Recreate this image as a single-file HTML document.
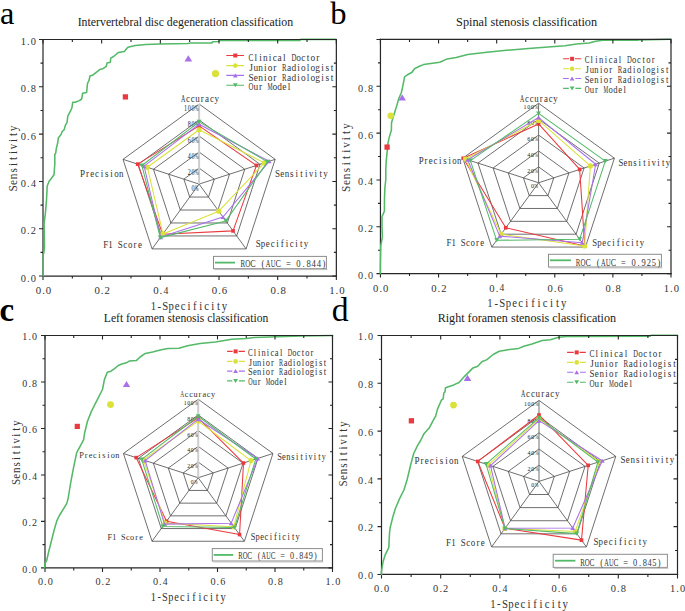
<!DOCTYPE html><html><head><meta charset="utf-8"><style>html,body{margin:0;padding:0;background:#fff;}svg{display:block;}</style></head><body><svg width="685" height="611" viewBox="0 0 685 611"><rect width="685" height="611" fill="#fff"/>
<polygon points="199.1,168.08 214.32,179.15 208.5,197.06 189.7,197.06 183.88,179.15" fill="none" stroke="#4a4a4a" stroke-width="0.8"/>
<polygon points="199.1,152.06 229.53,174.2 217.91,210.02 180.29,210.02 168.67,174.2" fill="none" stroke="#4a4a4a" stroke-width="0.8"/>
<polygon points="199.1,136.04 244.75,169.25 227.31,222.98 170.89,222.98 153.45,169.25" fill="none" stroke="#4a4a4a" stroke-width="0.8"/>
<polygon points="199.1,120.02 259.97,164.3 236.72,235.94 161.48,235.94 138.23,164.3" fill="none" stroke="#4a4a4a" stroke-width="0.8"/>
<polygon points="199.1,104 275.18,159.35 246.12,248.9 152.08,248.9 123.02,159.35" fill="none" stroke="#4a4a4a" stroke-width="0.8"/>
<line x1="199.1" y1="184.1" x2="275.18" y2="159.35" stroke="#4a4a4a" stroke-width="0.8"/>
<line x1="199.1" y1="184.1" x2="246.12" y2="248.9" stroke="#4a4a4a" stroke-width="0.8"/>
<line x1="199.1" y1="184.1" x2="152.08" y2="248.9" stroke="#4a4a4a" stroke-width="0.8"/>
<line x1="199.1" y1="184.1" x2="123.02" y2="159.35" stroke="#4a4a4a" stroke-width="0.8"/>
<line x1="199.1" y1="184.1" x2="199.1" y2="104" stroke="#cdcdcd" stroke-width="2"/>
<g class="pct">
<text transform="scale(0.85 1)" x="227.03" y="191.2" font-family="Liberation Serif" font-size="7.2" text-anchor="middle" fill="#222">0</text>
<text transform="scale(0.6 1)" x="327.88" y="191.2" font-family="Liberation Serif" font-size="7.2" text-anchor="middle" fill="#222">%</text>
<text transform="scale(0.85 1)" x="222.62 227.03" y="175.18" font-family="Liberation Serif" font-size="7.2" text-anchor="middle" fill="#222">20</text>
<text transform="scale(0.6 1)" x="327.88" y="175.18" font-family="Liberation Serif" font-size="7.2" text-anchor="middle" fill="#222">%</text>
<text transform="scale(0.85 1)" x="222.62 227.03" y="159.16" font-family="Liberation Serif" font-size="7.2" text-anchor="middle" fill="#222">40</text>
<text transform="scale(0.6 1)" x="327.88" y="159.16" font-family="Liberation Serif" font-size="7.2" text-anchor="middle" fill="#222">%</text>
<text transform="scale(0.85 1)" x="222.62 227.03" y="143.14" font-family="Liberation Serif" font-size="7.2" text-anchor="middle" fill="#222">60</text>
<text transform="scale(0.6 1)" x="327.88" y="143.14" font-family="Liberation Serif" font-size="7.2" text-anchor="middle" fill="#222">%</text>
<text transform="scale(0.85 1)" x="222.62 227.03" y="127.12" font-family="Liberation Serif" font-size="7.2" text-anchor="middle" fill="#222">80</text>
<text transform="scale(0.6 1)" x="327.88" y="127.12" font-family="Liberation Serif" font-size="7.2" text-anchor="middle" fill="#222">%</text>
<text transform="scale(0.85 1)" x="218.21 222.62 227.03" y="111.1" font-family="Liberation Serif" font-size="7.2" text-anchor="middle" fill="#222">100</text>
<text transform="scale(0.6 1)" x="327.88" y="111.1" font-family="Liberation Serif" font-size="7.2" text-anchor="middle" fill="#222">%</text>
</g>
<polygon points="199.1,125.87 256.47,165.44 233.05,230.89 162.7,234.26 137.7,164.12" fill="none" stroke="#ea3a40" stroke-width="1.05" stroke-linejoin="round"/>
<rect x="197.26" y="124.03" width="3.68" height="3.68" fill="#ea3a40"/>
<rect x="254.63" y="163.6" width="3.68" height="3.68" fill="#ea3a40"/>
<rect x="231.21" y="229.05" width="3.68" height="3.68" fill="#ea3a40"/>
<rect x="160.87" y="232.42" width="3.68" height="3.68" fill="#ea3a40"/>
<rect x="135.86" y="162.29" width="3.68" height="3.68" fill="#ea3a40"/>
<polygon points="199.1,129.79 264.38,162.86 218.76,211.19 162.94,233.93 147.36,167.27" fill="none" stroke="#dae23a" stroke-width="1.05" stroke-linejoin="round"/>
<circle cx="199.1" cy="129.79" r="2.62" fill="#dae23a"/>
<circle cx="264.38" cy="162.86" r="2.62" fill="#dae23a"/>
<circle cx="218.76" cy="211.19" r="2.62" fill="#dae23a"/>
<circle cx="162.94" cy="233.93" r="2.62" fill="#dae23a"/>
<circle cx="147.36" cy="167.27" r="2.62" fill="#dae23a"/>
<polygon points="199.1,124.19 269.17,161.3 222.99,217.02 160.64,237.11 144.09,166.2" fill="none" stroke="#a970ea" stroke-width="1.05" stroke-linejoin="round"/>
<polygon points="199.1,122.15 196.65,126.22 201.55,126.22" fill="#a970ea"/>
<polygon points="269.17,159.27 266.72,163.34 271.62,163.34" fill="#a970ea"/>
<polygon points="222.99,214.99 220.54,219.05 225.44,219.05" fill="#a970ea"/>
<polygon points="160.64,235.07 158.19,239.14 163.09,239.14" fill="#a970ea"/>
<polygon points="144.09,164.17 141.64,168.24 146.54,168.24" fill="#a970ea"/>
<polygon points="199.1,121.86 267.5,161.85 225.81,220.91 160.26,237.63 141.88,165.49" fill="none" stroke="#54b968" stroke-width="1.05" stroke-linejoin="round"/>
<polygon points="199.1,123.9 196.65,119.83 201.55,119.83" fill="#54b968"/>
<polygon points="267.5,163.88 265.05,159.81 269.95,159.81" fill="#54b968"/>
<polygon points="225.81,222.94 223.36,218.87 228.26,218.87" fill="#54b968"/>
<polygon points="160.26,239.66 157.81,235.59 162.71,235.59" fill="#54b968"/>
<polygon points="141.88,167.52 139.43,163.45 144.33,163.45" fill="#54b968"/>
<text transform="scale(0.6 1)" x="305.2" y="101.6" font-family="Liberation Serif" font-size="10" text-anchor="middle" fill="#333333">A</text>
<text transform="scale(0.9 1)" x="208.79 214.12 219.45 224.77 230.1 235.43 240.76" y="101.6" font-family="Liberation Serif" font-size="10" text-anchor="middle" fill="#333333">ccuracy</text>
<text transform="scale(0.9 1)" x="308.25 313.59 318.93 324.27 329.6 334.94 340.28" y="176.9" font-family="Liberation Serif" font-size="10" text-anchor="middle" fill="#333333">Sensiti</text>
<text transform="scale(0.85 1)" x="365.95" y="176.9" font-family="Liberation Serif" font-size="10" text-anchor="middle" fill="#333333">v</text>
<text transform="scale(0.9 1)" x="350.96 356.3 361.64" y="176.9" font-family="Liberation Serif" font-size="10" text-anchor="middle" fill="#333333">ity</text>
<text transform="scale(0.9 1)" x="287.01 292.32 297.63 302.94 308.25 313.56 318.86 324.17 329.48 334.79 340.1" y="247.3" font-family="Liberation Serif" font-size="10" text-anchor="middle" fill="#333333">Specificity</text>
<text transform="scale(0.9 1)" x="117.4 122.86 133.77 139.23 144.68 150.14 155.6" y="247.8" font-family="Liberation Serif" font-size="10" text-anchor="middle" fill="#333333">F1Score</text>
<text transform="scale(0.9 1)" x="91.81 97.18 102.55 107.91 113.28 118.64 124.01 129.38 134.74" y="176.6" font-family="Liberation Serif" font-size="10" text-anchor="middle" fill="#333333">Precision</text>
<path d="M43 39.5V276.05H336.35" stroke="#262626" stroke-width="1.2" fill="none" stroke-linecap="square"/>
<path d="M43 276.05v4M43 276.05h-4M72.34 276.05v2.5M43 252.4h-2.5M101.67 276.05v4M43 228.74h-4M131 276.05v2.5M43 205.09h-2.5M160.34 276.05v4M43 181.43h-4M189.68 276.05v2.5M43 157.78h-2.5M219.01 276.05v4M43 134.12h-4M248.34 276.05v2.5M43 110.47h-2.5M277.68 276.05v4M43 86.81h-4M307.02 276.05v2.5M43 63.16h-2.5M336.35 276.05v4M43 39.5h-4" stroke="#262626" stroke-width="1.1" fill="none"/>
<polyline points="43.2,276 43.2,255 43.9,252.4 44.5,247 44.1,223.6 45.4,213.1 46.5,200 47.2,186 49.1,181.3 51.1,178.7 54,174.7 54.8,164.3 54.8,154.5 55.7,153.1 56.3,148.6 57.6,143.3 58.3,138.1 60.9,134.8 62.2,131.5 64.2,129.6 65.4,125.2 67,122.7 67.8,116.2 70.3,111.3 71.9,108 72.7,102.3 75.2,102.3 79.3,100.6 81.7,99 82.6,93.3 86.6,92.5 87.5,83.5 89.1,80.2 89.9,76.1 92.4,75.3 95.6,72.8 99.7,69.6 103,68.7 106.3,66.3 107.1,63 110.4,62.2 110.7,58.1 113.6,56.5 118.6,52.4 124.3,51.5 127.6,47.5 130.8,46.6 135.3,45.6 145.8,44.4 159.8,43.9 187.8,43.5 190.4,42.9 212,42.9 212.5,41.8 218.4,41.6 219.5,40.6 300,40.4 300.6,39.35 336,39.35" fill="none" stroke="#54b968" stroke-width="1.55" stroke-linejoin="round" stroke-linecap="round"/>
<rect x="122.75" y="94.25" width="5.3" height="5.3" fill="#ea3a40"/>
<circle cx="215.5" cy="73.6" r="3.6" fill="#dae23a"/>
<polygon points="188.3,55.2 184.45,61.6 192.15,61.6" fill="#a970ea"/>
<path d="M43 39.5H336.35V276.05" stroke="#262626" stroke-width="1.2" fill="none" stroke-linecap="square"/>
<path d="M43 39.5v4M336.35 276.05h-4M72.34 39.5v2.5M336.35 252.4h-2.5M101.67 39.5v4M336.35 228.74h-4M131 39.5v2.5M336.35 205.09h-2.5M160.34 39.5v4M336.35 181.43h-4M189.68 39.5v2.5M336.35 157.78h-2.5M219.01 39.5v4M336.35 134.12h-4M248.34 39.5v2.5M336.35 110.47h-2.5M277.68 39.5v4M336.35 86.81h-4M307.02 39.5v2.5M336.35 63.16h-2.5M336.35 39.5v4M336.35 39.5h-4" stroke="#262626" stroke-width="1.1" fill="none"/>
<text transform="scale(1 1)" x="23.4 28.4 33.4" y="281.55" font-family="Liberation Serif" font-size="10.4" text-anchor="middle" fill="#333333">0.0</text>
<text transform="scale(1 1)" x="23.4 28.4 33.4" y="234.24" font-family="Liberation Serif" font-size="10.4" text-anchor="middle" fill="#333333">0.2</text>
<text transform="scale(1 1)" x="23.4 28.4" y="186.93" font-family="Liberation Serif" font-size="10.4" text-anchor="middle" fill="#333333">0.</text>
<text transform="scale(0.95 1)" x="35.16" y="186.93" font-family="Liberation Serif" font-size="10.4" text-anchor="middle" fill="#333333">4</text>
<text transform="scale(1 1)" x="23.4 28.4 33.4" y="139.62" font-family="Liberation Serif" font-size="10.4" text-anchor="middle" fill="#333333">0.6</text>
<text transform="scale(1 1)" x="23.4 28.4 33.4" y="92.31" font-family="Liberation Serif" font-size="10.4" text-anchor="middle" fill="#333333">0.8</text>
<text transform="scale(1 1)" x="23.4 28.4 33.4" y="45" font-family="Liberation Serif" font-size="10.4" text-anchor="middle" fill="#333333">1.0</text>
<text transform="scale(1 1)" x="38.5 43.5 48.5" y="294.05" font-family="Liberation Serif" font-size="10.8" text-anchor="middle" fill="#333333">0.0</text>
<text transform="scale(1 1)" x="97.17 102.17 107.17" y="294.05" font-family="Liberation Serif" font-size="10.8" text-anchor="middle" fill="#333333">0.2</text>
<text transform="scale(1 1)" x="155.84 160.84" y="294.05" font-family="Liberation Serif" font-size="10.8" text-anchor="middle" fill="#333333">0.</text>
<text transform="scale(0.9 1)" x="184.27" y="294.05" font-family="Liberation Serif" font-size="10.8" text-anchor="middle" fill="#333333">4</text>
<text transform="scale(1 1)" x="214.51 219.51 224.51" y="294.05" font-family="Liberation Serif" font-size="10.8" text-anchor="middle" fill="#333333">0.6</text>
<text transform="scale(1 1)" x="273.18 278.18 283.18" y="294.05" font-family="Liberation Serif" font-size="10.8" text-anchor="middle" fill="#333333">0.8</text>
<text transform="scale(1 1)" x="331.85 336.85 341.85" y="294.05" font-family="Liberation Serif" font-size="10.8" text-anchor="middle" fill="#333333">1.0</text>
<text transform="scale(0.9 1)" x="170.41 177 183.59 190.18 196.77 203.36 209.94 216.53 223.12 229.71 236.3 242.89 249.48" y="309.9" font-family="Liberation Serif" font-size="11.9" text-anchor="middle" fill="#333333">1-Specificity</text>
<g transform="translate(17.4 158.45) rotate(-90)">
<text transform="scale(0.9 1)" x="-33.28 -26.63 -19.97 -13.31 -6.66 0 6.66" y="0" font-family="Liberation Serif" font-size="12.5" text-anchor="middle" fill="#333333">Sensiti</text>
<text transform="scale(0.85 1)" x="14.1" y="0" font-family="Liberation Serif" font-size="12.5" text-anchor="middle" fill="#333333">v</text>
<text transform="scale(0.9 1)" x="19.97 26.63 33.28" y="0" font-family="Liberation Serif" font-size="12.5" text-anchor="middle" fill="#333333">ity</text>
</g>
<text x="77.7" y="26.1" font-family="Liberation Serif" font-size="11.8" fill="#1a1a1a" font-weight="normal" text-anchor="start" textLength="215.4" lengthAdjust="spacingAndGlyphs">Intervertebral disc degeneration classification</text>
<text x="-0.1" y="24.3" font-family="Liberation Serif" font-size="32.4" fill="#000" font-weight="normal" text-anchor="start">a</text>
<path d="M226.3 55.5H235.3M235.3 55.5H244" stroke="#ea3a40" stroke-width="1.1" fill="none"/>
<rect x="233.3" y="53.5" width="4" height="4" fill="#ea3a40"/>
<text transform="scale(0.7 1)" x="358.58" y="60.7" font-family="Liberation Serif" font-size="10.4" text-anchor="middle" fill="#333333">C</text>
<text transform="scale(0.9 1)" x="284.19 289.48 294.78 300.07 305.36 310.66 315.95" y="60.7" font-family="Liberation Serif" font-size="10.4" text-anchor="middle" fill="#333333">linical</text>
<text transform="scale(0.65 1)" x="452.13" y="60.7" font-family="Liberation Serif" font-size="10.4" text-anchor="middle" fill="#333333">D</text>
<text transform="scale(0.9 1)" x="331.83 337.12 342.42 347.71 353" y="60.7" font-family="Liberation Serif" font-size="10.4" text-anchor="middle" fill="#333333">octor</text>
<path d="M226.3 65.6H235.3M235.3 65.6H244" stroke="#dae23a" stroke-width="1.1" fill="none"/>
<circle cx="235.3" cy="65.6" r="2.3" fill="#dae23a"/>
<text transform="scale(0.9 1)" x="278.9 284.19 289.48 294.78 300.07 305.36" y="70.8" font-family="Liberation Serif" font-size="10.4" text-anchor="middle" fill="#333333">Junior</text>
<text transform="scale(0.65 1)" x="437.47" y="70.8" font-family="Liberation Serif" font-size="10.4" text-anchor="middle" fill="#333333">R</text>
<text transform="scale(0.9 1)" x="321.24 326.54 331.83 337.12 342.42 347.71 353 358.3 363.59 368.88" y="70.8" font-family="Liberation Serif" font-size="10.4" text-anchor="middle" fill="#333333">adiologist</text>
<path d="M226.3 75.4H235.3M235.3 75.4H244" stroke="#a970ea" stroke-width="1.1" fill="none"/>
<polygon points="235.3,73.41 232.9,77.39 237.7,77.39" fill="#a970ea"/>
<text transform="scale(0.9 1)" x="278.9 284.19 289.48 294.78 300.07 305.36" y="80.6" font-family="Liberation Serif" font-size="10.4" text-anchor="middle" fill="#333333">Senior</text>
<text transform="scale(0.65 1)" x="437.47" y="80.6" font-family="Liberation Serif" font-size="10.4" text-anchor="middle" fill="#333333">R</text>
<text transform="scale(0.9 1)" x="321.24 326.54 331.83 337.12 342.42 347.71 353 358.3 363.59 368.88" y="80.6" font-family="Liberation Serif" font-size="10.4" text-anchor="middle" fill="#333333">adiologist</text>
<path d="M226.3 85.3H235.3M235.3 85.3H244" stroke="#54b968" stroke-width="1.1" fill="none"/>
<polygon points="235.3,87.29 232.9,83.31 237.7,83.31" fill="#54b968"/>
<text transform="scale(0.65 1)" x="386.16" y="90.5" font-family="Liberation Serif" font-size="10.4" text-anchor="middle" fill="#333333">O</text>
<text transform="scale(0.9 1)" x="284.19 289.48" y="90.5" font-family="Liberation Serif" font-size="10.4" text-anchor="middle" fill="#333333">ur</text>
<text transform="scale(0.55 1)" x="491.02" y="90.5" font-family="Liberation Serif" font-size="10.4" text-anchor="middle" fill="#333333">M</text>
<text transform="scale(0.9 1)" x="305.36 310.66 315.95 321.24" y="90.5" font-family="Liberation Serif" font-size="10.4" text-anchor="middle" fill="#333333">odel</text>
<rect x="213.5" y="256.4" width="112.9" height="12.3" fill="none" stroke="#8c8c8c" stroke-width="1"/>
<line x1="214.5" y1="269.6" x2="327.3" y2="269.6" stroke="#bdbdbd" stroke-width="1"/>
<line x1="215" y1="262.6" x2="235" y2="262.6" stroke="#54b968" stroke-width="1.8"/>
<text transform="scale(0.65 1)" x="373.43 381.23" y="267.4" font-family="Liberation Serif" font-size="10.8" text-anchor="middle" fill="#333333">RO</text>
<text transform="scale(0.75 1)" x="337.16" y="267.4" font-family="Liberation Serif" font-size="10.8" text-anchor="middle" fill="#333333">C</text>
<text transform="scale(0.8 1)" x="328.77" y="267.4" font-family="Liberation Serif" font-size="10.8" text-anchor="middle" fill="#333333">(</text>
<text transform="scale(0.6 1)" x="446.81 455.26" y="267.4" font-family="Liberation Serif" font-size="10.8" text-anchor="middle" fill="#333333">AU</text>
<text transform="scale(0.75 1)" x="370.97" y="267.4" font-family="Liberation Serif" font-size="10.8" text-anchor="middle" fill="#333333">C</text>
<text transform="scale(0.8 1)" x="360.46 373.14 379.48 385.82 392.16 398.5 404.84" y="267.4" font-family="Liberation Serif" font-size="10.8" text-anchor="middle" fill="#333333">=0.844)</text>
<polygon points="538.6,166.85 553.76,177.84 547.97,195.61 529.23,195.61 523.44,177.84" fill="none" stroke="#4a4a4a" stroke-width="0.8"/>
<polygon points="538.6,150.95 568.92,172.92 557.34,208.48 519.86,208.48 508.28,172.92" fill="none" stroke="#4a4a4a" stroke-width="0.8"/>
<polygon points="538.6,135.05 584.08,168.01 566.71,221.34 510.49,221.34 493.12,168.01" fill="none" stroke="#4a4a4a" stroke-width="0.8"/>
<polygon points="538.6,119.15 599.24,163.1 576.08,234.2 501.12,234.2 477.96,163.1" fill="none" stroke="#4a4a4a" stroke-width="0.8"/>
<polygon points="538.6,103.25 614.4,158.18 585.45,247.07 491.75,247.07 462.8,158.18" fill="none" stroke="#4a4a4a" stroke-width="0.8"/>
<line x1="538.6" y1="182.75" x2="614.4" y2="158.18" stroke="#4a4a4a" stroke-width="0.8"/>
<line x1="538.6" y1="182.75" x2="585.45" y2="247.07" stroke="#4a4a4a" stroke-width="0.8"/>
<line x1="538.6" y1="182.75" x2="491.75" y2="247.07" stroke="#4a4a4a" stroke-width="0.8"/>
<line x1="538.6" y1="182.75" x2="462.8" y2="158.18" stroke="#4a4a4a" stroke-width="0.8"/>
<line x1="538.6" y1="182.75" x2="538.6" y2="103.25" stroke="#707070" stroke-width="1"/>
<g class="pct">
<text transform="scale(0.85 1)" x="626.44" y="188.45" font-family="Liberation Serif" font-size="7" text-anchor="middle" fill="#222">0</text>
<text transform="scale(0.65 1)" x="824.96" y="188.45" font-family="Liberation Serif" font-size="7" text-anchor="middle" fill="#222">%</text>
<text transform="scale(0.85 1)" x="622.03 626.44" y="172.55" font-family="Liberation Serif" font-size="7" text-anchor="middle" fill="#222">20</text>
<text transform="scale(0.65 1)" x="824.96" y="172.55" font-family="Liberation Serif" font-size="7" text-anchor="middle" fill="#222">%</text>
<text transform="scale(0.85 1)" x="622.03 626.44" y="156.65" font-family="Liberation Serif" font-size="7" text-anchor="middle" fill="#222">40</text>
<text transform="scale(0.65 1)" x="824.96" y="156.65" font-family="Liberation Serif" font-size="7" text-anchor="middle" fill="#222">%</text>
<text transform="scale(0.85 1)" x="622.03 626.44" y="140.75" font-family="Liberation Serif" font-size="7" text-anchor="middle" fill="#222">60</text>
<text transform="scale(0.65 1)" x="824.96" y="140.75" font-family="Liberation Serif" font-size="7" text-anchor="middle" fill="#222">%</text>
<text transform="scale(0.85 1)" x="622.03 626.44" y="124.85" font-family="Liberation Serif" font-size="7" text-anchor="middle" fill="#222">80</text>
<text transform="scale(0.65 1)" x="824.96" y="124.85" font-family="Liberation Serif" font-size="7" text-anchor="middle" fill="#222">%</text>
<text transform="scale(0.85 1)" x="617.62 622.03 626.44" y="108.95" font-family="Liberation Serif" font-size="7" text-anchor="middle" fill="#222">100</text>
<text transform="scale(0.65 1)" x="824.96" y="108.95" font-family="Liberation Serif" font-size="7" text-anchor="middle" fill="#222">%</text>
</g>
<polygon points="538.6,123.92 579.68,169.43 584.74,246.1 505.81,227.77 463.18,158.31" fill="none" stroke="#ea3a40" stroke-width="1.05" stroke-linejoin="round"/>
<rect x="536.76" y="122.08" width="3.68" height="3.68" fill="#ea3a40"/>
<rect x="577.85" y="167.6" width="3.68" height="3.68" fill="#ea3a40"/>
<rect x="582.91" y="244.26" width="3.68" height="3.68" fill="#ea3a40"/>
<rect x="503.97" y="225.93" width="3.68" height="3.68" fill="#ea3a40"/>
<rect x="461.34" y="156.47" width="3.68" height="3.68" fill="#ea3a40"/>
<polygon points="538.6,120.42 590.37,165.97 584.6,245.91 501.12,234.2 465.45,159.04" fill="none" stroke="#dae23a" stroke-width="1.05" stroke-linejoin="round"/>
<circle cx="538.6" cy="120.42" r="2.62" fill="#dae23a"/>
<circle cx="590.37" cy="165.97" r="2.62" fill="#dae23a"/>
<circle cx="584.6" cy="245.91" r="2.62" fill="#dae23a"/>
<circle cx="501.12" cy="234.2" r="2.62" fill="#dae23a"/>
<circle cx="465.45" cy="159.04" r="2.62" fill="#dae23a"/>
<polygon points="538.6,117.56 595.68,164.25 582.26,242.69 499.72,236.13 467.65,159.76" fill="none" stroke="#a970ea" stroke-width="1.05" stroke-linejoin="round"/>
<polygon points="538.6,115.53 536.15,119.59 541.05,119.59" fill="#a970ea"/>
<polygon points="595.68,162.22 593.23,166.28 598.13,166.28" fill="#a970ea"/>
<polygon points="582.26,240.66 579.81,244.73 584.71,244.73" fill="#a970ea"/>
<polygon points="499.72,234.1 497.27,238.17 502.17,238.17" fill="#a970ea"/>
<polygon points="467.65,157.72 465.2,161.79 470.1,161.79" fill="#a970ea"/>
<polygon points="538.6,113.43 605.3,161.13 579.68,239.16 496.67,240.31 470.38,160.64" fill="none" stroke="#54b968" stroke-width="1.05" stroke-linejoin="round"/>
<polygon points="538.6,115.46 536.15,111.39 541.05,111.39" fill="#54b968"/>
<polygon points="605.3,163.16 602.85,159.1 607.75,159.1" fill="#54b968"/>
<polygon points="579.68,241.19 577.23,237.12 582.13,237.12" fill="#54b968"/>
<polygon points="496.67,242.35 494.22,238.28 499.12,238.28" fill="#54b968"/>
<polygon points="470.38,162.67 467.93,158.61 472.83,158.61" fill="#54b968"/>
<text transform="scale(0.6 1)" x="870.33" y="102" font-family="Liberation Serif" font-size="9.8" text-anchor="middle" fill="#333333">A</text>
<text transform="scale(0.9 1)" x="585.49 590.76 596.03 601.3 606.57 611.84 617.11" y="102" font-family="Liberation Serif" font-size="9.8" text-anchor="middle" fill="#333333">ccuracy</text>
<text transform="scale(0.9 1)" x="689.87 695.09 700.32 705.55 710.77 716 721.23" y="165.8" font-family="Liberation Serif" font-size="9.8" text-anchor="middle" fill="#333333">Sensiti</text>
<text transform="scale(0.85 1)" x="769.19" y="165.8" font-family="Liberation Serif" font-size="9.8" text-anchor="middle" fill="#333333">v</text>
<text transform="scale(0.9 1)" x="731.68 736.91 742.13" y="165.8" font-family="Liberation Serif" font-size="9.8" text-anchor="middle" fill="#333333">ity</text>
<text transform="scale(0.9 1)" x="660.77 666.01 671.26 676.51 681.75 687 692.25 697.49 702.74 707.99 713.23" y="245.8" font-family="Liberation Serif" font-size="9.8" text-anchor="middle" fill="#333333">Specificity</text>
<text transform="scale(0.9 1)" x="498.79 504.09 514.68 519.98 525.28 530.58 535.88" y="246" font-family="Liberation Serif" font-size="9.8" text-anchor="middle" fill="#333333">F1Score</text>
<text transform="scale(0.9 1)" x="467.9 473.2 478.51 483.81 489.11 494.41 499.72 505.02 510.32" y="163.8" font-family="Liberation Serif" font-size="9.8" text-anchor="middle" fill="#333333">Precision</text>
<path d="M380.45 39.46V273.6H671" stroke="#262626" stroke-width="1.2" fill="none" stroke-linecap="square"/>
<path d="M380.45 273.6v4M380.45 273.6h-4M409.5 273.6v2.5M380.45 250.19h-2.5M438.56 273.6v4M380.45 226.77h-4M467.62 273.6v2.5M380.45 203.36h-2.5M496.67 273.6v4M380.45 179.94h-4M525.73 273.6v2.5M380.45 156.53h-2.5M554.78 273.6v4M380.45 133.12h-4M583.84 273.6v2.5M380.45 109.7h-2.5M612.89 273.6v4M380.45 86.29h-4M641.94 273.6v2.5M380.45 62.87h-2.5M671 273.6v4M380.45 39.46h-4" stroke="#262626" stroke-width="1.1" fill="none"/>
<polyline points="380.4,273.6 380.4,265 380.8,245.5 382.4,236.9 382,227.1 382,216.7 384.4,211.1 384.5,198.1 384.9,187.6 385.8,179.7 385.8,169.3 386.2,161.4 387.1,152.3 388,143.1 389.1,137.9 391.4,130 391.5,122.7 393.2,117 395.6,109.6 398.9,98.2 401.4,92.5 403,85.1 404.6,76.9 407.1,75 412,72.3 414.5,68.7 419.4,66.3 423.5,64.6 439.8,62.2 447.2,58.9 456.2,57.6 467.7,54.5 484.6,52.4 506.5,50.3 528.4,48.4 554.7,46.5 565,45.7 576.7,43.9 589.1,43 595.7,41.3 604.4,40.1 638,40.1 670.7,39.3" fill="none" stroke="#54b968" stroke-width="1.55" stroke-linejoin="round" stroke-linecap="round"/>
<rect x="384.45" y="144.45" width="5.3" height="5.3" fill="#ea3a40"/>
<circle cx="390.7" cy="115.7" r="3.2" fill="#dae23a"/>
<polygon points="402.2,94.33 398.5,100.47 405.9,100.47" fill="#a970ea"/>
<path d="M380.45 39.46H671V273.6" stroke="#262626" stroke-width="1.2" fill="none" stroke-linecap="square"/>
<path d="M380.45 39.46v4M671 273.6h-4M409.5 39.46v2.5M671 250.19h-2.5M438.56 39.46v4M671 226.77h-4M467.62 39.46v2.5M671 203.36h-2.5M496.67 39.46v4M671 179.94h-4M525.73 39.46v2.5M671 156.53h-2.5M554.78 39.46v4M671 133.12h-4M583.84 39.46v2.5M671 109.7h-2.5M612.89 39.46v4M671 86.29h-4M641.94 39.46v2.5M671 62.87h-2.5M671 39.46v4M671 39.46h-4" stroke="#262626" stroke-width="1.1" fill="none"/>
<text transform="scale(1 1)" x="360.5 365.5 370.5" y="279" font-family="Liberation Serif" font-size="10.2" text-anchor="middle" fill="#333333">0.0</text>
<text transform="scale(1 1)" x="360.5 365.5 370.5" y="232.17" font-family="Liberation Serif" font-size="10.2" text-anchor="middle" fill="#333333">0.2</text>
<text transform="scale(1 1)" x="360.5 365.5" y="185.34" font-family="Liberation Serif" font-size="10.2" text-anchor="middle" fill="#333333">0.</text>
<text transform="scale(0.95 1)" x="390" y="185.34" font-family="Liberation Serif" font-size="10.2" text-anchor="middle" fill="#333333">4</text>
<text transform="scale(1 1)" x="360.5 365.5 370.5" y="138.52" font-family="Liberation Serif" font-size="10.2" text-anchor="middle" fill="#333333">0.6</text>
<text transform="scale(1 1)" x="360.5 365.5 370.5" y="91.69" font-family="Liberation Serif" font-size="10.2" text-anchor="middle" fill="#333333">0.8</text>
<text transform="scale(1 1)" x="375.75 380.75 385.75" y="291.5" font-family="Liberation Serif" font-size="10.6" text-anchor="middle" fill="#333333">0.0</text>
<text transform="scale(1 1)" x="433.86 438.86 443.86" y="291.5" font-family="Liberation Serif" font-size="10.6" text-anchor="middle" fill="#333333">0.2</text>
<text transform="scale(1 1)" x="491.97 496.97" y="291.5" font-family="Liberation Serif" font-size="10.6" text-anchor="middle" fill="#333333">0.</text>
<text transform="scale(0.9 1)" x="557.74" y="291.5" font-family="Liberation Serif" font-size="10.6" text-anchor="middle" fill="#333333">4</text>
<text transform="scale(1 1)" x="550.08 555.08 560.08" y="291.5" font-family="Liberation Serif" font-size="10.6" text-anchor="middle" fill="#333333">0.6</text>
<text transform="scale(1 1)" x="608.19 613.19 618.19" y="291.5" font-family="Liberation Serif" font-size="10.6" text-anchor="middle" fill="#333333">0.8</text>
<text transform="scale(1 1)" x="666.3 671.3 676.3" y="291.5" font-family="Liberation Serif" font-size="10.6" text-anchor="middle" fill="#333333">1.0</text>
<text transform="scale(0.9 1)" x="544.5 551.32 558.13 564.95 571.76 578.57 585.39 592.2 599.02 605.83 612.65 619.46 626.27" y="307.5" font-family="Liberation Serif" font-size="11.9" text-anchor="middle" fill="#333333">1-Specificity</text>
<g transform="translate(350.3 157.5) rotate(-90)">
<text transform="scale(0.9 1)" x="-34.88 -27.9 -20.93 -13.95 -6.98 0 6.98 13.95 20.93 27.9 34.88" y="0" font-family="Liberation Serif" font-size="12.5" text-anchor="middle" fill="#333333">Sensitivity</text>
</g>
<text x="456.1" y="26.4" font-family="Liberation Serif" font-size="12.26" fill="#1a1a1a" font-weight="normal" text-anchor="start" textLength="141" lengthAdjust="spacingAndGlyphs">Spinal stenosis classification</text>
<text x="330.3" y="24.1" font-family="Liberation Serif" font-size="32.6" fill="#000" font-weight="normal" text-anchor="start">b</text>
<path d="M563.1 58.8H569.2M575 58.8H581.2" stroke="#ea3a40" stroke-width="1.1" fill="none"/>
<rect x="570.1" y="56.8" width="4" height="4" fill="#ea3a40"/>
<text transform="scale(0.75 1)" x="782.78" y="63.1" font-family="Liberation Serif" font-size="9.6" text-anchor="middle" fill="#333333">C</text>
<text transform="scale(0.9 1)" x="657.55 662.79 668.03 673.27 678.5 683.74 688.98" y="63.1" font-family="Liberation Serif" font-size="9.6" text-anchor="middle" fill="#333333">linical</text>
<text transform="scale(0.7 1)" x="899.3" y="63.1" font-family="Liberation Serif" font-size="9.6" text-anchor="middle" fill="#333333">D</text>
<text transform="scale(0.9 1)" x="704.69 709.93 715.16 720.4 725.64" y="63.1" font-family="Liberation Serif" font-size="9.6" text-anchor="middle" fill="#333333">octor</text>
<path d="M563.1 68.8H568.9M575.3 68.8H581.2" stroke="#dae23a" stroke-width="1.1" fill="none"/>
<circle cx="572.1" cy="68.8" r="2.3" fill="#dae23a"/>
<text transform="scale(0.9 1)" x="652.32 657.55 662.79 668.03 673.27 678.5" y="73.1" font-family="Liberation Serif" font-size="9.6" text-anchor="middle" fill="#333333">Junior</text>
<text transform="scale(0.7 1)" x="885.83" y="73.1" font-family="Liberation Serif" font-size="9.6" text-anchor="middle" fill="#333333">R</text>
<text transform="scale(0.9 1)" x="694.21 699.45 704.69 709.93 715.16 720.4 725.64 730.88 736.11 741.35" y="73.1" font-family="Liberation Serif" font-size="9.6" text-anchor="middle" fill="#333333">adiologist</text>
<path d="M563.1 78.5H568.8M575.4 78.5H581.2" stroke="#a970ea" stroke-width="1.1" fill="none"/>
<polygon points="572.1,76.51 569.7,80.49 574.5,80.49" fill="#a970ea"/>
<text transform="scale(0.9 1)" x="652.32 657.55 662.79 668.03 673.27 678.5" y="82.8" font-family="Liberation Serif" font-size="9.6" text-anchor="middle" fill="#333333">Senior</text>
<text transform="scale(0.7 1)" x="885.83" y="82.8" font-family="Liberation Serif" font-size="9.6" text-anchor="middle" fill="#333333">R</text>
<text transform="scale(0.9 1)" x="694.21 699.45 704.69 709.93 715.16 720.4 725.64 730.88 736.11 741.35" y="82.8" font-family="Liberation Serif" font-size="9.6" text-anchor="middle" fill="#333333">adiologist</text>
<path d="M563.1 88.4H568.8M575.4 88.4H581.2" stroke="#54b968" stroke-width="1.1" fill="none"/>
<polygon points="572.1,90.39 569.7,86.41 574.5,86.41" fill="#54b968"/>
<text transform="scale(0.7 1)" x="838.69" y="92.7" font-family="Liberation Serif" font-size="9.6" text-anchor="middle" fill="#333333">O</text>
<text transform="scale(0.9 1)" x="657.55 662.79" y="92.7" font-family="Liberation Serif" font-size="9.6" text-anchor="middle" fill="#333333">ur</text>
<text transform="scale(0.55 1)" x="1101.71" y="92.7" font-family="Liberation Serif" font-size="9.6" text-anchor="middle" fill="#333333">M</text>
<text transform="scale(0.9 1)" x="678.5 683.74 688.98 694.21" y="92.7" font-family="Liberation Serif" font-size="9.6" text-anchor="middle" fill="#333333">odel</text>
<rect x="548.5" y="254.3" width="112.9" height="12.7" fill="none" stroke="#8c8c8c" stroke-width="1"/>
<line x1="549.5" y1="267.9" x2="662.3" y2="267.9" stroke="#bdbdbd" stroke-width="1"/>
<line x1="549.9" y1="260.3" x2="570.9" y2="260.3" stroke="#54b968" stroke-width="1.8"/>
<text transform="scale(0.65 1)" x="889.26 897.04" y="265.6" font-family="Liberation Serif" font-size="10.6" text-anchor="middle" fill="#333333">RO</text>
<text transform="scale(0.75 1)" x="784.17" y="265.6" font-family="Liberation Serif" font-size="10.6" text-anchor="middle" fill="#333333">C</text>
<text transform="scale(0.8 1)" x="747.79" y="265.6" font-family="Liberation Serif" font-size="10.6" text-anchor="middle" fill="#333333">(</text>
<text transform="scale(0.6 1)" x="1005.48" y="265.6" font-family="Liberation Serif" font-size="10.6" text-anchor="middle" fill="#333333">A</text>
<text transform="scale(0.65 1)" x="935.91" y="265.6" font-family="Liberation Serif" font-size="10.6" text-anchor="middle" fill="#333333">U</text>
<text transform="scale(0.75 1)" x="817.86" y="265.6" font-family="Liberation Serif" font-size="10.6" text-anchor="middle" fill="#333333">C</text>
<text transform="scale(0.8 1)" x="779.38 792.01 798.33 804.65 810.96 817.28 823.6" y="265.6" font-family="Liberation Serif" font-size="10.6" text-anchor="middle" fill="#333333">=0.925)</text>
<polygon points="198.2,462.05 213.15,472.9 207.44,490.45 188.96,490.45 183.25,472.9" fill="none" stroke="#4a4a4a" stroke-width="0.8"/>
<polygon points="198.2,446.35 228.1,468.05 216.68,503.15 179.72,503.15 168.3,468.05" fill="none" stroke="#4a4a4a" stroke-width="0.8"/>
<polygon points="198.2,430.65 243.05,463.2 225.92,515.85 170.48,515.85 153.35,463.2" fill="none" stroke="#4a4a4a" stroke-width="0.8"/>
<polygon points="198.2,414.95 258,458.34 235.16,528.56 161.24,528.56 138.4,458.34" fill="none" stroke="#4a4a4a" stroke-width="0.8"/>
<polygon points="198.2,399.25 272.95,453.49 244.4,541.26 152,541.26 123.45,453.49" fill="none" stroke="#4a4a4a" stroke-width="0.8"/>
<line x1="198.2" y1="477.75" x2="272.95" y2="453.49" stroke="#4a4a4a" stroke-width="0.8"/>
<line x1="198.2" y1="477.75" x2="244.4" y2="541.26" stroke="#4a4a4a" stroke-width="0.8"/>
<line x1="198.2" y1="477.75" x2="152" y2="541.26" stroke="#4a4a4a" stroke-width="0.8"/>
<line x1="198.2" y1="477.75" x2="123.45" y2="453.49" stroke="#4a4a4a" stroke-width="0.8"/>
<line x1="198.2" y1="477.75" x2="198.2" y2="399.25" stroke="#cdcdcd" stroke-width="2"/>
<g class="pct">
<text transform="scale(0.85 1)" x="226.24" y="483.65" font-family="Liberation Serif" font-size="6.8" text-anchor="middle" fill="#222">0</text>
<text transform="scale(0.6 1)" x="326.5" y="483.65" font-family="Liberation Serif" font-size="6.8" text-anchor="middle" fill="#222">%</text>
<text transform="scale(0.85 1)" x="222 226.24" y="467.95" font-family="Liberation Serif" font-size="6.8" text-anchor="middle" fill="#222">20</text>
<text transform="scale(0.6 1)" x="326.5" y="467.95" font-family="Liberation Serif" font-size="6.8" text-anchor="middle" fill="#222">%</text>
<text transform="scale(0.85 1)" x="222 226.24" y="452.25" font-family="Liberation Serif" font-size="6.8" text-anchor="middle" fill="#222">40</text>
<text transform="scale(0.6 1)" x="326.5" y="452.25" font-family="Liberation Serif" font-size="6.8" text-anchor="middle" fill="#222">%</text>
<text transform="scale(0.85 1)" x="222 226.24" y="436.55" font-family="Liberation Serif" font-size="6.8" text-anchor="middle" fill="#222">60</text>
<text transform="scale(0.6 1)" x="326.5" y="436.55" font-family="Liberation Serif" font-size="6.8" text-anchor="middle" fill="#222">%</text>
<text transform="scale(0.85 1)" x="222 226.24" y="420.85" font-family="Liberation Serif" font-size="6.8" text-anchor="middle" fill="#222">80</text>
<text transform="scale(0.6 1)" x="326.5" y="420.85" font-family="Liberation Serif" font-size="6.8" text-anchor="middle" fill="#222">%</text>
<text transform="scale(0.85 1)" x="217.76 222 226.24" y="405.15" font-family="Liberation Serif" font-size="6.8" text-anchor="middle" fill="#222">100</text>
<text transform="scale(0.6 1)" x="326.5" y="405.15" font-family="Liberation Serif" font-size="6.8" text-anchor="middle" fill="#222">%</text>
</g>
<polygon points="198.2,417.93 243.5,463.05 239.55,534.59 166.55,521.25 136.15,457.62" fill="none" stroke="#ea3a40" stroke-width="1.05" stroke-linejoin="round"/>
<rect x="196.41" y="416.15" width="3.57" height="3.57" fill="#ea3a40"/>
<rect x="241.72" y="461.26" width="3.57" height="3.57" fill="#ea3a40"/>
<rect x="237.76" y="532.8" width="3.57" height="3.57" fill="#ea3a40"/>
<rect x="164.77" y="519.47" width="3.57" height="3.57" fill="#ea3a40"/>
<rect x="134.37" y="455.83" width="3.57" height="3.57" fill="#ea3a40"/>
<polygon points="198.2,420.99 250.98,460.62 233.77,526.65 165.17,523.16 143.41,459.97" fill="none" stroke="#dae23a" stroke-width="1.05" stroke-linejoin="round"/>
<circle cx="198.2" cy="420.99" r="2.55" fill="#dae23a"/>
<circle cx="250.98" cy="460.62" r="2.55" fill="#dae23a"/>
<circle cx="233.77" cy="526.65" r="2.55" fill="#dae23a"/>
<circle cx="165.17" cy="523.16" r="2.55" fill="#dae23a"/>
<circle cx="143.41" cy="459.97" r="2.55" fill="#dae23a"/>
<polygon points="198.2,419.19 257.78,458.42 231.23,523.16 164.47,524.11 145.2,460.55" fill="none" stroke="#a970ea" stroke-width="1.05" stroke-linejoin="round"/>
<polygon points="198.2,417.21 195.82,421.16 200.58,421.16" fill="#a970ea"/>
<polygon points="257.78,456.44 255.4,460.39 260.16,460.39" fill="#a970ea"/>
<polygon points="231.23,521.18 228.85,525.13 233.61,525.13" fill="#a970ea"/>
<polygon points="164.47,522.14 162.09,526.09 166.85,526.09" fill="#a970ea"/>
<polygon points="145.2,458.58 142.82,462.53 147.58,462.53" fill="#a970ea"/>
<polygon points="198.2,416.21 255.76,459.07 234.47,527.6 162.76,526.46 141.69,459.41" fill="none" stroke="#54b968" stroke-width="1.05" stroke-linejoin="round"/>
<polygon points="198.2,418.18 195.82,414.23 200.58,414.23" fill="#54b968"/>
<polygon points="255.76,461.05 253.38,457.1 258.14,457.1" fill="#54b968"/>
<polygon points="234.47,529.58 232.09,525.63 236.85,525.63" fill="#54b968"/>
<polygon points="162.76,528.44 160.38,524.49 165.14,524.49" fill="#54b968"/>
<polygon points="141.69,461.39 139.31,457.44 144.07,457.44" fill="#54b968"/>
<text transform="scale(0.6 1)" x="303.76" y="396.8" font-family="Liberation Serif" font-size="9.2" text-anchor="middle" fill="#333333">A</text>
<text transform="scale(0.9 1)" x="207.4 212.28 217.17 222.05 226.94 231.83 236.71" y="396.8" font-family="Liberation Serif" font-size="9.2" text-anchor="middle" fill="#333333">ccuracy</text>
<text transform="scale(0.9 1)" x="310.63 315.54 320.44 325.35 330.26 335.17 340.07" y="460.2" font-family="Liberation Serif" font-size="9.4" text-anchor="middle" fill="#333333">Sensiti</text>
<text transform="scale(0.85 1)" x="365.27" y="460.2" font-family="Liberation Serif" font-size="9.4" text-anchor="middle" fill="#333333">v</text>
<text transform="scale(0.9 1)" x="349.89 354.8" y="460.2" font-family="Liberation Serif" font-size="9.4" text-anchor="middle" fill="#333333">it</text>
<text transform="scale(0.85 1)" x="380.86" y="460.2" font-family="Liberation Serif" font-size="9.4" text-anchor="middle" fill="#333333">y</text>
<text transform="scale(0.9 1)" x="281.3 286.23 291.16 296.09 301.02 305.94 310.87 315.8 320.73 325.66 330.58" y="539.9" font-family="Liberation Serif" font-size="9.4" text-anchor="middle" fill="#333333">Specificity</text>
<text transform="scale(0.9 1)" x="122.09 127.05 136.97 141.92 146.88 151.84 156.79" y="539.8" font-family="Liberation Serif" font-size="9.2" text-anchor="middle" fill="#333333">F1Score</text>
<text transform="scale(0.9 1)" x="90.65 95.6 100.55 105.49 110.44 115.39 120.34 125.29 130.24" y="458.1" font-family="Liberation Serif" font-size="9.2" text-anchor="middle" fill="#333333">Precision</text>
<path d="M45 335.5V567.9H332.5" stroke="#262626" stroke-width="1.2" fill="none" stroke-linecap="square"/>
<path d="M45 567.9v4M45 567.9h-4M73.75 567.9v2.5M45 544.66h-2.5M102.5 567.9v4M45 521.42h-4M131.25 567.9v2.5M45 498.18h-2.5M160 567.9v4M45 474.94h-4M188.75 567.9v2.5M45 451.7h-2.5M217.5 567.9v4M45 428.46h-4M246.25 567.9v2.5M45 405.22h-2.5M275 567.9v4M45 381.98h-4M303.75 567.9v2.5M45 358.74h-2.5M332.5 567.9v4M45 335.5h-4" stroke="#262626" stroke-width="1.1" fill="none"/>
<polyline points="44.7,568 44.7,567.2 45,563.6 46.7,560.5 48.7,551.7 52.1,538.3 54.1,530.3 56.8,520.9 59.4,515.5 63.5,508.8 66.8,503.4 68.2,498.1 69.5,490 70.8,482.2 73.8,466.4 76.7,452.7 83.6,439.9 84.6,433 87.5,421.3 91.4,411.4 96.3,401.6 102.5,389.5 104.4,379.6 107.3,372.3 110.9,371.2 114.6,368.7 118.2,365.5 121.9,364 126.3,362.8 129.2,361.1 136.5,360.4 140.1,357 145.3,353.4 152.6,351.9 161.3,349.7 167.9,348.5 178.8,348.2 187.6,345.8 200,343.4 215.4,341.9 231.8,339.2 246.1,338.6 254.3,337.4 276.7,336.7 301.3,336.1 317.6,335.7 332.6,335.4" fill="none" stroke="#54b968" stroke-width="1.55" stroke-linejoin="round" stroke-linecap="round"/>
<rect x="74.7" y="423.8" width="5.2" height="5.2" fill="#ea3a40"/>
<circle cx="110.5" cy="404.6" r="3.4" fill="#dae23a"/>
<polygon points="126.5,380.97 122.85,387.03 130.15,387.03" fill="#a970ea"/>
<path d="M45 335.5H332.5V567.9" stroke="#262626" stroke-width="1.2" fill="none" stroke-linecap="square"/>
<path d="M45 335.5v4M332.5 567.9h-4M73.75 335.5v2.5M332.5 544.66h-2.5M102.5 335.5v4M332.5 521.42h-4M131.25 335.5v2.5M332.5 498.18h-2.5M160 335.5v4M332.5 474.94h-4M188.75 335.5v2.5M332.5 451.7h-2.5M217.5 335.5v4M332.5 428.46h-4M246.25 335.5v2.5M332.5 405.22h-2.5M275 335.5v4M332.5 381.98h-4M303.75 335.5v2.5M332.5 358.74h-2.5M332.5 335.5v4M332.5 335.5h-4" stroke="#262626" stroke-width="1.1" fill="none"/>
<text transform="scale(1 1)" x="24.73 29.68 34.62" y="572.8" font-family="Liberation Serif" font-size="10" text-anchor="middle" fill="#333333">0.0</text>
<text transform="scale(1 1)" x="24.73 29.68 34.62" y="526.32" font-family="Liberation Serif" font-size="10" text-anchor="middle" fill="#333333">0.2</text>
<text transform="scale(1 1)" x="24.73 29.68" y="479.84" font-family="Liberation Serif" font-size="10" text-anchor="middle" fill="#333333">0.</text>
<text transform="scale(0.95 1)" x="36.45" y="479.84" font-family="Liberation Serif" font-size="10" text-anchor="middle" fill="#333333">4</text>
<text transform="scale(1 1)" x="24.73 29.68 34.62" y="433.36" font-family="Liberation Serif" font-size="10" text-anchor="middle" fill="#333333">0.6</text>
<text transform="scale(1 1)" x="24.73 29.68 34.62" y="386.88" font-family="Liberation Serif" font-size="10" text-anchor="middle" fill="#333333">0.8</text>
<text transform="scale(1 1)" x="24.73 29.68 34.62" y="340.4" font-family="Liberation Serif" font-size="10" text-anchor="middle" fill="#333333">1.0</text>
<text transform="scale(1 1)" x="40.45 45.35 50.25" y="585.4" font-family="Liberation Serif" font-size="10.2" text-anchor="middle" fill="#333333">0.0</text>
<text transform="scale(1 1)" x="97.95 102.85 107.75" y="585.4" font-family="Liberation Serif" font-size="10.2" text-anchor="middle" fill="#333333">0.2</text>
<text transform="scale(1 1)" x="155.45 160.35" y="585.4" font-family="Liberation Serif" font-size="10.2" text-anchor="middle" fill="#333333">0.</text>
<text transform="scale(0.95 1)" x="173.95" y="585.4" font-family="Liberation Serif" font-size="10.2" text-anchor="middle" fill="#333333">4</text>
<text transform="scale(1 1)" x="212.95 217.85 222.75" y="585.4" font-family="Liberation Serif" font-size="10.2" text-anchor="middle" fill="#333333">0.6</text>
<text transform="scale(1 1)" x="270.45 275.35 280.25" y="585.4" font-family="Liberation Serif" font-size="10.2" text-anchor="middle" fill="#333333">0.8</text>
<text transform="scale(1 1)" x="327.95 332.85 337.75" y="585.4" font-family="Liberation Serif" font-size="10.2" text-anchor="middle" fill="#333333">1.0</text>
<text transform="scale(0.9 1)" x="170.36 176.82 183.28 189.74 196.19 202.65 209.11 215.57 222.03 228.49 234.94 241.4 247.86" y="600.8" font-family="Liberation Serif" font-size="11.5" text-anchor="middle" fill="#333333">1-Specificity</text>
<g transform="translate(19.5 452.7) rotate(-90)">
<text transform="scale(0.9 1)" x="-32.61 -26.09 -19.57 -13.05 -6.52 0 6.52" y="0" font-family="Liberation Serif" font-size="12.3" text-anchor="middle" fill="#333333">Sensiti</text>
<text transform="scale(0.85 1)" x="13.81" y="0" font-family="Liberation Serif" font-size="12.3" text-anchor="middle" fill="#333333">v</text>
<text transform="scale(0.9 1)" x="19.57 26.09 32.61" y="0" font-family="Liberation Serif" font-size="12.3" text-anchor="middle" fill="#333333">ity</text>
</g>
<text x="103.8" y="322.4" font-family="Liberation Serif" font-size="11.6" fill="#1a1a1a" font-weight="normal" text-anchor="start" textLength="164.5" lengthAdjust="spacingAndGlyphs">Left foramen stenosis classification</text>
<text x="-0.4" y="320.5" font-family="Liberation Serif" font-size="33" fill="#000" font-weight="bold" text-anchor="start">c</text>
<path d="M227.1 351.4H232.7M238.5 351.4H244.9" stroke="#ea3a40" stroke-width="1.1" fill="none"/>
<rect x="233.6" y="349.4" width="4" height="4" fill="#ea3a40"/>
<text transform="scale(0.75 1)" x="333.94" y="355.7" font-family="Liberation Serif" font-size="9.4" text-anchor="middle" fill="#333333">C</text>
<text transform="scale(0.9 1)" x="283.15 288.02 292.89 297.76 302.63 307.49 312.36" y="355.7" font-family="Liberation Serif" font-size="9.4" text-anchor="middle" fill="#333333">linical</text>
<text transform="scale(0.65 1)" x="445.99" y="355.7" font-family="Liberation Serif" font-size="9.4" text-anchor="middle" fill="#333333">D</text>
<text transform="scale(0.9 1)" x="326.97 331.84 336.71 341.58 346.45" y="355.7" font-family="Liberation Serif" font-size="9.4" text-anchor="middle" fill="#333333">octor</text>
<path d="M227.1 361.4H232.4M238.8 361.4H244.9" stroke="#dae23a" stroke-width="1.1" fill="none"/>
<circle cx="235.6" cy="361.4" r="2.3" fill="#dae23a"/>
<text transform="scale(0.9 1)" x="278.28 283.15 288.02 292.89 297.76 302.63" y="365.7" font-family="Liberation Serif" font-size="9.4" text-anchor="middle" fill="#333333">Junior</text>
<text transform="scale(0.65 1)" x="432.5" y="365.7" font-family="Liberation Serif" font-size="9.4" text-anchor="middle" fill="#333333">R</text>
<text transform="scale(0.9 1)" x="317.23 322.1 326.97 331.84 336.71 341.58 346.45 351.31 356.18 361.05" y="365.7" font-family="Liberation Serif" font-size="9.4" text-anchor="middle" fill="#333333">adiologist</text>
<path d="M227.1 371.1H232.3M238.9 371.1H244.9" stroke="#a970ea" stroke-width="1.1" fill="none"/>
<polygon points="235.6,369.11 233.2,373.09 238,373.09" fill="#a970ea"/>
<text transform="scale(0.9 1)" x="278.28 283.15 288.02 292.89 297.76 302.63" y="375.4" font-family="Liberation Serif" font-size="9.4" text-anchor="middle" fill="#333333">Senior</text>
<text transform="scale(0.65 1)" x="432.5" y="375.4" font-family="Liberation Serif" font-size="9.4" text-anchor="middle" fill="#333333">R</text>
<text transform="scale(0.9 1)" x="317.23 322.1 326.97 331.84 336.71 341.58 346.45 351.31 356.18 361.05" y="375.4" font-family="Liberation Serif" font-size="9.4" text-anchor="middle" fill="#333333">adiologist</text>
<path d="M227.1 380.9H232.3M238.9 380.9H244.9" stroke="#54b968" stroke-width="1.1" fill="none"/>
<polygon points="235.6,382.89 233.2,378.91 238,378.91" fill="#54b968"/>
<text transform="scale(0.65 1)" x="385.31" y="385.2" font-family="Liberation Serif" font-size="9.4" text-anchor="middle" fill="#333333">O</text>
<text transform="scale(0.9 1)" x="283.15 288.02" y="385.2" font-family="Liberation Serif" font-size="9.4" text-anchor="middle" fill="#333333">ur</text>
<text transform="scale(0.55 1)" x="487.24" y="385.2" font-family="Liberation Serif" font-size="9.4" text-anchor="middle" fill="#333333">M</text>
<text transform="scale(0.9 1)" x="302.63 307.49 312.36 317.23" y="385.2" font-family="Liberation Serif" font-size="9.4" text-anchor="middle" fill="#333333">odel</text>
<rect x="212.3" y="548.6" width="110.1" height="12.4" fill="none" stroke="#8c8c8c" stroke-width="1"/>
<line x1="213.3" y1="561.9" x2="323.3" y2="561.9" stroke="#bdbdbd" stroke-width="1"/>
<line x1="213.7" y1="554.9" x2="233.2" y2="554.9" stroke="#54b968" stroke-width="1.8"/>
<text transform="scale(0.65 1)" x="369.81 377.03" y="559.2" font-family="Liberation Serif" font-size="10.2" text-anchor="middle" fill="#333333">RO</text>
<text transform="scale(0.7 1)" x="356.8" y="559.2" font-family="Liberation Serif" font-size="10.2" text-anchor="middle" fill="#333333">C</text>
<text transform="scale(0.8 1)" x="323.92" y="559.2" font-family="Liberation Serif" font-size="10.2" text-anchor="middle" fill="#333333">(</text>
<text transform="scale(0.6 1)" x="439.71 447.53" y="559.2" font-family="Liberation Serif" font-size="10.2" text-anchor="middle" fill="#333333">AU</text>
<text transform="scale(0.7 1)" x="390.3" y="559.2" font-family="Liberation Serif" font-size="10.2" text-anchor="middle" fill="#333333">C</text>
<text transform="scale(0.8 1)" x="353.24 364.96 370.83 376.69 382.55 388.42 394.28" y="559.2" font-family="Liberation Serif" font-size="10.2" text-anchor="middle" fill="#333333">=0.849)</text>
<polygon points="539,465.2 554.35,476.39 548.49,494.51 529.51,494.51 523.65,476.39" fill="none" stroke="#4a4a4a" stroke-width="0.8"/>
<polygon points="539,449 569.7,471.39 557.97,507.61 520.03,507.61 508.3,471.39" fill="none" stroke="#4a4a4a" stroke-width="0.8"/>
<polygon points="539,432.8 585.05,466.38 567.46,520.72 510.54,520.72 492.95,466.38" fill="none" stroke="#4a4a4a" stroke-width="0.8"/>
<polygon points="539,416.6 600.4,461.38 576.95,533.82 501.05,533.82 477.6,461.38" fill="none" stroke="#4a4a4a" stroke-width="0.8"/>
<polygon points="539,400.4 615.75,456.37 586.43,546.93 491.57,546.93 462.25,456.37" fill="none" stroke="#4a4a4a" stroke-width="0.8"/>
<line x1="539" y1="481.4" x2="615.75" y2="456.37" stroke="#4a4a4a" stroke-width="0.8"/>
<line x1="539" y1="481.4" x2="586.43" y2="546.93" stroke="#4a4a4a" stroke-width="0.8"/>
<line x1="539" y1="481.4" x2="491.57" y2="546.93" stroke="#4a4a4a" stroke-width="0.8"/>
<line x1="539" y1="481.4" x2="462.25" y2="456.37" stroke="#4a4a4a" stroke-width="0.8"/>
<line x1="539" y1="481.4" x2="539" y2="400.4" stroke="#707070" stroke-width="1"/>
<g class="pct">
<text transform="scale(0.85 1)" x="626.91" y="487.5" font-family="Liberation Serif" font-size="7" text-anchor="middle" fill="#222">0</text>
<text transform="scale(0.65 1)" x="825.58" y="487.5" font-family="Liberation Serif" font-size="7" text-anchor="middle" fill="#222">%</text>
<text transform="scale(0.85 1)" x="622.5 626.91" y="471.3" font-family="Liberation Serif" font-size="7" text-anchor="middle" fill="#222">20</text>
<text transform="scale(0.65 1)" x="825.58" y="471.3" font-family="Liberation Serif" font-size="7" text-anchor="middle" fill="#222">%</text>
<text transform="scale(0.85 1)" x="622.5 626.91" y="455.1" font-family="Liberation Serif" font-size="7" text-anchor="middle" fill="#222">40</text>
<text transform="scale(0.65 1)" x="825.58" y="455.1" font-family="Liberation Serif" font-size="7" text-anchor="middle" fill="#222">%</text>
<text transform="scale(0.85 1)" x="622.5 626.91" y="438.9" font-family="Liberation Serif" font-size="7" text-anchor="middle" fill="#222">60</text>
<text transform="scale(0.65 1)" x="825.58" y="438.9" font-family="Liberation Serif" font-size="7" text-anchor="middle" fill="#222">%</text>
<text transform="scale(0.85 1)" x="622.5 626.91" y="422.7" font-family="Liberation Serif" font-size="7" text-anchor="middle" fill="#222">80</text>
<text transform="scale(0.65 1)" x="825.58" y="422.7" font-family="Liberation Serif" font-size="7" text-anchor="middle" fill="#222">%</text>
<text transform="scale(0.85 1)" x="618.09 622.5 626.91" y="406.5" font-family="Liberation Serif" font-size="7" text-anchor="middle" fill="#222">100</text>
<text transform="scale(0.65 1)" x="825.58" y="406.5" font-family="Liberation Serif" font-size="7" text-anchor="middle" fill="#222">%</text>
</g>
<polygon points="539,414.98 588.2,465.36 581.5,540.12 505.04,528.32 477.75,461.43" fill="none" stroke="#ea3a40" stroke-width="1.05" stroke-linejoin="round"/>
<rect x="537.16" y="413.14" width="3.68" height="3.68" fill="#ea3a40"/>
<rect x="586.36" y="463.52" width="3.68" height="3.68" fill="#ea3a40"/>
<rect x="579.66" y="538.28" width="3.68" height="3.68" fill="#ea3a40"/>
<rect x="503.2" y="526.48" width="3.68" height="3.68" fill="#ea3a40"/>
<rect x="475.92" y="459.59" width="3.68" height="3.68" fill="#ea3a40"/>
<polygon points="539,419.03 599.33,461.73 575.19,531.4 504.99,528.39 488.34,464.88" fill="none" stroke="#dae23a" stroke-width="1.05" stroke-linejoin="round"/>
<circle cx="539" cy="419.03" r="2.62" fill="#dae23a"/>
<circle cx="599.33" cy="461.73" r="2.62" fill="#dae23a"/>
<circle cx="575.19" cy="531.4" r="2.62" fill="#dae23a"/>
<circle cx="504.99" cy="528.39" r="2.62" fill="#dae23a"/>
<circle cx="488.34" cy="464.88" r="2.62" fill="#dae23a"/>
<polygon points="539,420.65 602.24,460.77 572.73,527.99 505.08,528.25 490.49,465.58" fill="none" stroke="#a970ea" stroke-width="1.05" stroke-linejoin="round"/>
<polygon points="539,418.62 536.55,422.68 541.45,422.68" fill="#a970ea"/>
<polygon points="602.24,458.74 599.79,462.81 604.69,462.81" fill="#a970ea"/>
<polygon points="572.73,525.96 570.28,530.03 575.18,530.03" fill="#a970ea"/>
<polygon points="505.08,526.22 502.63,530.29 507.53,530.29" fill="#a970ea"/>
<polygon points="490.49,463.55 488.04,467.61 492.94,467.61" fill="#a970ea"/>
<polygon points="539,417.81 597.87,462.2 576.81,533.63 504.94,528.45 486.04,464.13" fill="none" stroke="#54b968" stroke-width="1.05" stroke-linejoin="round"/>
<polygon points="539,419.85 536.55,415.78 541.45,415.78" fill="#54b968"/>
<polygon points="597.87,464.24 595.42,460.17 600.32,460.17" fill="#54b968"/>
<polygon points="576.81,535.66 574.36,531.59 579.26,531.59" fill="#54b968"/>
<polygon points="504.94,530.48 502.49,526.42 507.39,526.42" fill="#54b968"/>
<polygon points="486.04,466.16 483.59,462.1 488.49,462.1" fill="#54b968"/>
<text transform="scale(0.6 1)" x="871.91" y="397.4" font-family="Liberation Serif" font-size="10" text-anchor="middle" fill="#333333">A</text>
<text transform="scale(0.9 1)" x="586.69 592.1 597.52 602.93 608.34 613.75 619.17" y="397.4" font-family="Liberation Serif" font-size="10" text-anchor="middle" fill="#333333">ccuracy</text>
<text transform="scale(0.9 1)" x="692.18 697.62 703.06 708.5 713.95 719.39 724.83 730.27 735.72 741.16 746.6" y="462.6" font-family="Liberation Serif" font-size="10" text-anchor="middle" fill="#333333">Sensitivity</text>
<text transform="scale(0.9 1)" x="662.17 667.6 673.04 678.47 683.9 689.33 694.77 700.2 705.63 711.06 716.49" y="545.2" font-family="Liberation Serif" font-size="10" text-anchor="middle" fill="#333333">Specificity</text>
<text transform="scale(0.9 1)" x="498.4 503.84 514.72 520.17 525.61 531.05 536.49" y="545.8" font-family="Liberation Serif" font-size="10" text-anchor="middle" fill="#333333">F1Score</text>
<text transform="scale(0.9 1)" x="463.4 468.84 474.28 479.72 485.17 490.61 496.05 501.49 506.93" y="463.6" font-family="Liberation Serif" font-size="10" text-anchor="middle" fill="#333333">Precision</text>
<path d="M381.5 335.5V574.45H677.5" stroke="#262626" stroke-width="1.2" fill="none" stroke-linecap="square"/>
<path d="M381.5 574.45v4M381.5 574.45h-4M411.1 574.45v2.5M381.5 550.56h-2.5M440.7 574.45v4M381.5 526.66h-4M470.3 574.45v2.5M381.5 502.77h-2.5M499.9 574.45v4M381.5 478.87h-4M529.5 574.45v2.5M381.5 454.98h-2.5M559.1 574.45v4M381.5 431.08h-4M588.7 574.45v2.5M381.5 407.19h-2.5M618.3 574.45v4M381.5 383.29h-4M647.9 574.45v2.5M381.5 359.39h-2.5M677.5 574.45v4M381.5 335.5h-4" stroke="#262626" stroke-width="1.1" fill="none"/>
<polyline points="381.5,574.4 381.2,573.6 381.6,570.7 383,562 385.2,554.8 388.8,547.6 389.5,533.2 390.2,527.5 393.1,515.9 395.3,508.7 399.6,498.6 403.9,490 406.9,480.6 410.7,464.8 413.7,453.5 417.5,445.6 420.9,440 424,433.7 428,429.2 429.3,427.9 434.8,417.4 435.6,416.4 437.4,409.4 441.5,400 443.2,398.9 443.8,393 445,391.9 445.5,387.8 453.7,384.9 459,382.5 464.8,376.1 473,367.9 477.7,366.2 481.9,361.7 487,359.6 493.1,354.5 499.3,351.3 509.5,349.4 518.7,348.4 523.8,346.3 532,343.9 542.2,340.6 550.4,339.8 558.5,337.2 566.7,336.6 580,336.4 650,336.3 651,335.2 677.6,335.2" fill="none" stroke="#54b968" stroke-width="1.55" stroke-linejoin="round" stroke-linecap="round"/>
<rect x="408.75" y="418.15" width="5.3" height="5.3" fill="#ea3a40"/>
<circle cx="453.5" cy="405.1" r="3.4" fill="#dae23a"/>
<polygon points="467.5,374.65 463.7,380.95 471.3,380.95" fill="#a970ea"/>
<path d="M381.5 335.5H677.5V574.45" stroke="#262626" stroke-width="1.2" fill="none" stroke-linecap="square"/>
<path d="M381.5 335.5v4M677.5 574.45h-4M411.1 335.5v2.5M677.5 550.56h-2.5M440.7 335.5v4M677.5 526.66h-4M470.3 335.5v2.5M677.5 502.77h-2.5M499.9 335.5v4M677.5 478.87h-4M529.5 335.5v2.5M677.5 454.98h-2.5M559.1 335.5v4M677.5 431.08h-4M588.7 335.5v2.5M677.5 407.19h-2.5M618.3 335.5v4M677.5 383.29h-4M647.9 335.5v2.5M677.5 359.39h-2.5M677.5 335.5v4M677.5 335.5h-4" stroke="#262626" stroke-width="1.1" fill="none"/>
<text transform="scale(1 1)" x="360.5 365.5 370.5" y="579.25" font-family="Liberation Serif" font-size="10.2" text-anchor="middle" fill="#333333">0.0</text>
<text transform="scale(1 1)" x="360.5 365.5 370.5" y="531.46" font-family="Liberation Serif" font-size="10.2" text-anchor="middle" fill="#333333">0.2</text>
<text transform="scale(1 1)" x="360.5 365.5" y="483.67" font-family="Liberation Serif" font-size="10.2" text-anchor="middle" fill="#333333">0.</text>
<text transform="scale(0.95 1)" x="390" y="483.67" font-family="Liberation Serif" font-size="10.2" text-anchor="middle" fill="#333333">4</text>
<text transform="scale(1 1)" x="360.5 365.5 370.5" y="435.88" font-family="Liberation Serif" font-size="10.2" text-anchor="middle" fill="#333333">0.6</text>
<text transform="scale(1 1)" x="360.5 365.5 370.5" y="388.09" font-family="Liberation Serif" font-size="10.2" text-anchor="middle" fill="#333333">0.8</text>
<text transform="scale(1 1)" x="360.5 365.5 370.5" y="340.3" font-family="Liberation Serif" font-size="10.2" text-anchor="middle" fill="#333333">1.0</text>
<text transform="scale(1 1)" x="376.5 381.5 386.5" y="592.05" font-family="Liberation Serif" font-size="10.4" text-anchor="middle" fill="#333333">0.0</text>
<text transform="scale(1 1)" x="435.7 440.7 445.7" y="592.05" font-family="Liberation Serif" font-size="10.4" text-anchor="middle" fill="#333333">0.2</text>
<text transform="scale(1 1)" x="494.9 499.9" y="592.05" font-family="Liberation Serif" font-size="10.4" text-anchor="middle" fill="#333333">0.</text>
<text transform="scale(0.95 1)" x="531.47" y="592.05" font-family="Liberation Serif" font-size="10.4" text-anchor="middle" fill="#333333">4</text>
<text transform="scale(1 1)" x="554.1 559.1 564.1" y="592.05" font-family="Liberation Serif" font-size="10.4" text-anchor="middle" fill="#333333">0.6</text>
<text transform="scale(1 1)" x="613.3 618.3 623.3" y="592.05" font-family="Liberation Serif" font-size="10.4" text-anchor="middle" fill="#333333">0.8</text>
<text transform="scale(1 1)" x="672.5 677.5 682.5" y="592.05" font-family="Liberation Serif" font-size="10.4" text-anchor="middle" fill="#333333">1.0</text>
<text transform="scale(0.9 1)" x="547.68 554.37 561.06 567.76 574.45 581.14 587.83 594.53 601.22 607.91 614.6 621.3 627.99" y="608.4" font-family="Liberation Serif" font-size="12" text-anchor="middle" fill="#333333">1-Specificity</text>
<g transform="translate(346.5 453.8) rotate(-90)">
<text transform="scale(0.9 1)" x="-32.92 -26.34 -19.75 -13.17 -6.58 0 6.58" y="0" font-family="Liberation Serif" font-size="12.3" text-anchor="middle" fill="#333333">Sensiti</text>
<text transform="scale(0.85 1)" x="13.94" y="0" font-family="Liberation Serif" font-size="12.3" text-anchor="middle" fill="#333333">v</text>
<text transform="scale(0.9 1)" x="19.75 26.34 32.92" y="0" font-family="Liberation Serif" font-size="12.3" text-anchor="middle" fill="#333333">ity</text>
</g>
<text x="437.7" y="321.9" font-family="Liberation Serif" font-size="12.1" fill="#1a1a1a" font-weight="normal" text-anchor="start" textLength="178.4" lengthAdjust="spacingAndGlyphs">Right foramen stenosis classification</text>
<text x="331.8" y="320.8" font-family="Liberation Serif" font-size="33.7" fill="#000" font-weight="normal" text-anchor="start">d</text>
<path d="M567.1 352.4H573.8M579.6 352.4H585.8" stroke="#ea3a40" stroke-width="1.1" fill="none"/>
<rect x="574.7" y="350.4" width="4" height="4" fill="#ea3a40"/>
<text transform="scale(0.75 1)" x="789.26" y="357.4" font-family="Liberation Serif" font-size="10" text-anchor="middle" fill="#333333">C</text>
<text transform="scale(0.9 1)" x="663.11 668.5 673.89 679.29 684.68 690.07 695.47" y="357.4" font-family="Liberation Serif" font-size="10" text-anchor="middle" fill="#333333">linical</text>
<text transform="scale(0.65 1)" x="977.89" y="357.4" font-family="Liberation Serif" font-size="10" text-anchor="middle" fill="#333333">D</text>
<text transform="scale(0.9 1)" x="711.65 717.04 722.43 727.83 733.22" y="357.4" font-family="Liberation Serif" font-size="10" text-anchor="middle" fill="#333333">octor</text>
<path d="M567.1 362.4H573.5M579.9 362.4H585.8" stroke="#dae23a" stroke-width="1.1" fill="none"/>
<circle cx="576.7" cy="362.4" r="2.3" fill="#dae23a"/>
<text transform="scale(0.9 1)" x="657.71 663.11 668.5 673.89 679.29 684.68" y="367.4" font-family="Liberation Serif" font-size="10" text-anchor="middle" fill="#333333">Junior</text>
<text transform="scale(0.7 1)" x="894.17" y="367.4" font-family="Liberation Serif" font-size="10" text-anchor="middle" fill="#333333">R</text>
<text transform="scale(0.9 1)" x="700.86 706.25 711.65 717.04 722.43 727.83 733.22 738.61 744 749.4" y="367.4" font-family="Liberation Serif" font-size="10" text-anchor="middle" fill="#333333">adiologist</text>
<path d="M567.1 372.3H573.4M580 372.3H585.8" stroke="#a970ea" stroke-width="1.1" fill="none"/>
<polygon points="576.7,370.31 574.3,374.29 579.1,374.29" fill="#a970ea"/>
<text transform="scale(0.9 1)" x="657.71 663.11 668.5 673.89 679.29 684.68" y="377.3" font-family="Liberation Serif" font-size="10" text-anchor="middle" fill="#333333">Senior</text>
<text transform="scale(0.7 1)" x="894.17" y="377.3" font-family="Liberation Serif" font-size="10" text-anchor="middle" fill="#333333">R</text>
<text transform="scale(0.9 1)" x="700.86 706.25 711.65 717.04 722.43 727.83 733.22 738.61 744 749.4" y="377.3" font-family="Liberation Serif" font-size="10" text-anchor="middle" fill="#333333">adiologist</text>
<path d="M567.1 382.2H573.4M580 382.2H585.8" stroke="#54b968" stroke-width="1.1" fill="none"/>
<polygon points="576.7,384.19 574.3,380.21 579.1,380.21" fill="#54b968"/>
<text transform="scale(0.7 1)" x="845.63" y="387.2" font-family="Liberation Serif" font-size="10" text-anchor="middle" fill="#333333">O</text>
<text transform="scale(0.9 1)" x="663.11 668.5" y="387.2" font-family="Liberation Serif" font-size="10" text-anchor="middle" fill="#333333">ur</text>
<text transform="scale(0.55 1)" x="1111.56" y="387.2" font-family="Liberation Serif" font-size="10" text-anchor="middle" fill="#333333">M</text>
<text transform="scale(0.9 1)" x="684.68 690.07 695.47 700.86" y="387.2" font-family="Liberation Serif" font-size="10" text-anchor="middle" fill="#333333">odel</text>
<rect x="553.2" y="554.3" width="114.2" height="13.1" fill="none" stroke="#8c8c8c" stroke-width="1"/>
<line x1="554.2" y1="568.3" x2="668.3" y2="568.3" stroke="#bdbdbd" stroke-width="1"/>
<line x1="554.9" y1="560.7" x2="575.4" y2="560.7" stroke="#54b968" stroke-width="1.8"/>
<text transform="scale(0.65 1)" x="896.03 903.41" y="566" font-family="Liberation Serif" font-size="10.5" text-anchor="middle" fill="#333333">RO</text>
<text transform="scale(0.7 1)" x="845.73" y="566" font-family="Liberation Serif" font-size="10.5" text-anchor="middle" fill="#333333">C</text>
<text transform="scale(0.8 1)" x="752.01" y="566" font-family="Liberation Serif" font-size="10.5" text-anchor="middle" fill="#333333">(</text>
<text transform="scale(0.6 1)" x="1010.68 1018.67" y="566" font-family="Liberation Serif" font-size="10.5" text-anchor="middle" fill="#333333">AU</text>
<text transform="scale(0.7 1)" x="880" y="566" font-family="Liberation Serif" font-size="10.5" text-anchor="middle" fill="#333333">C</text>
<text transform="scale(0.8 1)" x="782 793.99 799.99 805.99 811.98 817.98 823.98" y="566" font-family="Liberation Serif" font-size="10.5" text-anchor="middle" fill="#333333">=0.845)</text>
</svg></body></html>
